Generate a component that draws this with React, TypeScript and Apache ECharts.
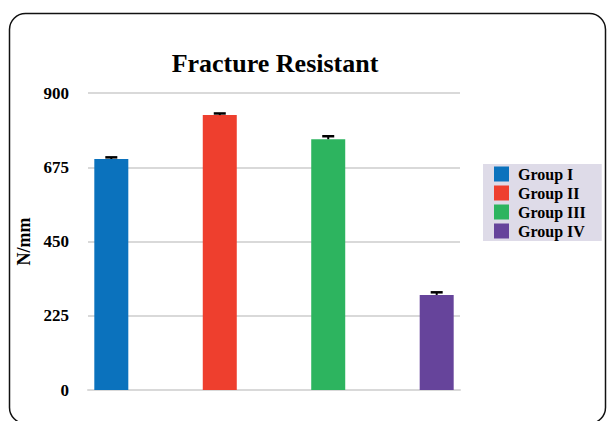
import React, { useEffect, useRef } from "react";
import * as echarts from "echarts";

const groups = ["Group I", "Group II", "Group III", "Group IV"];
const means = [700, 833, 760, 288];
const errors = [5, 5, 9, 8];
const colors = ["#0b72bd", "#ee3f2e", "#2db45f", "#66449b"];
const yTicks = [0, 225, 450, 675, 900];

const BAR_W = 34;
const BAR_GAP = 2.19;

export default function App() {
  const ref = useRef<HTMLDivElement>(null);
  useEffect(() => {
    const chart = echarts.init(ref.current!, null, { renderer: "svg" });
    const spacing = BAR_W * (1 + BAR_GAP);
    const font = "'Liberation Serif', 'Times New Roman', serif";
    const barSeries = groups.map((g, i) => ({
      name: g,
      type: "bar",
      data: [means[i]],
      barWidth: BAR_W,
      barGap: BAR_GAP * 100 + "%",
      itemStyle: { color: colors[i] },
      z: 2,
    }));
    const errSeries = {
      type: "custom",
      name: "err",
      z: 5,
      data: groups.map((g, i) => [0, means[i], errors[i], i]),
      renderItem: (params: any, api: any) => {
        const v = api.value(1);
        const e = api.value(2);
        const idx = api.value(3);
        const top = api.coord([0, v + e]);
        const base = api.coord([0, v]);
        const x = top[0] + (idx - 1.5) * spacing;
        return {
          type: "group",
          children: [
            {
              type: "line",
              shape: { x1: x, y1: base[1], x2: x, y2: top[1] },
              style: { stroke: "#000", lineWidth: 2 },
            },
            {
              type: "line",
              shape: { x1: x - 6, y1: top[1], x2: x + 6, y2: top[1] },
              style: { stroke: "#000", lineWidth: 2.5 },
            },
          ],
        };
      },
    };
    chart.setOption({
      animation: false,
      backgroundColor: "#fff",
      title: {
        text: "Fracture Resistant",
        left: 270,
        textAlign: "center",
        top: 45,
        textStyle: { fontFamily: font, fontWeight: "bold", fontSize: 26, color: "#000" },
      },
      graphic: [
        {
          type: "rect",
          shape: { x: 9.5, y: 13.5, width: 596, height: 410, r: 16 },
          style: { fill: "none", stroke: "#111", lineWidth: 1.5 },
          z: 100,
        },
      ],
      legend: {
        data: groups,
        orient: "vertical",
        left: 483,
        top: 164,
        padding: [2, 16, 2, 11],
        itemWidth: 15,
        itemHeight: 15,
        itemGap: 3,
        backgroundColor: "#dedbe8",
        icon: "rect",
        textStyle: { fontFamily: font, fontWeight: "bold", fontSize: 16, color: "#000", padding: [0, 0, 0, 4] },
      },
      grid: { left: 88, right: 147, top: 93, bottom: 31 },
      xAxis: {
        type: "category",
        data: [""],
        axisLine: { show: true, lineStyle: { color: "#d9d9d9", width: 2 } },
        axisTick: { show: false },
        axisLabel: { show: false },
      },
      yAxis: {
        type: "value",
        min: 0,
        max: 900,
        interval: 225,
        name: "N/mm",
        nameLocation: "middle",
        nameGap: 50,
        nameRotate: 90,
        nameTextStyle: { fontFamily: font, fontWeight: "bold", fontSize: 18, color: "#000" },
        axisLine: { show: false },
        axisTick: { show: false },
        axisLabel: {
          margin: 19,
          fontFamily: font,
          fontWeight: "bold",
          fontSize: 17,
          color: "#000",
          formatter: (v: number) => (yTicks.includes(v) ? String(v) : ""),
        },
        splitLine: { lineStyle: { color: "#d9d9d9", width: 2 } },
      },
      series: [...barSeries, errSeries],
    });
    return () => chart.dispose();
  }, []);
  return (
    <div
      ref={ref}
      style={{ position: "fixed", left: 0, top: 0, width: 607, height: 421 }}
    />
  );
}
